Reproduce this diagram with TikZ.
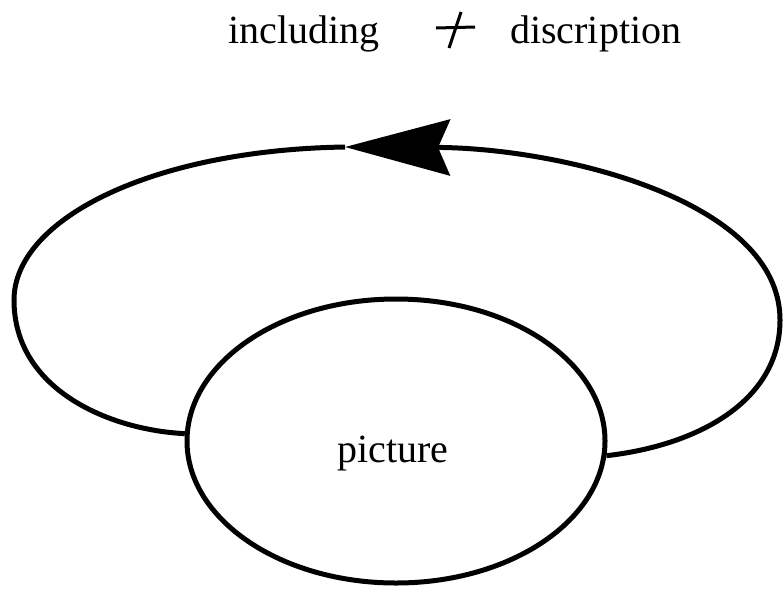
\documentclass[tikz,border=0pt]{standalone}
\usepackage{fontspec}
\setmainfont{Liberation Serif}
\usetikzlibrary{arrows.meta, shapes.geometric}

\begin{document}
\begin{tikzpicture}[x=1pt, y=-1pt,
  oval/.style={draw, ellipse, line width=5pt, minimum width=418pt,
               minimum height=284pt, inner sep=0pt},
  lbl/.style={font=\fontsize{40}{48}\selectfont, inner sep=0pt},
  arr/.style={line width=5pt},
  pen/.style={line width=3pt},
  tip/.style={-{Stealth[length=105pt, width=56pt, inset=12pt]}}
]
\useasboundingbox (0,0) rectangle (783,592);
\node[lbl, anchor=base west] (inc) at (228,43) {including};
\node[lbl, anchor=base west] (dis) at (510,43) {discription};
\draw[pen] (436,28) -- (475,27);
\draw[pen] (461,12) -- (449,48);
\node[oval] (pic) at (396,441) {};
\node[lbl, anchor=base] (pictxt) at (393,462) {picture};
\coordinate (head) at (345,147);
\draw[arr, tip] (pic.-4) .. controls (700,445) and (780,400) .. (780,320)
  .. controls (780,200) and (560,148) .. (head);
\draw[arr] (head) .. controls (150,150) and (14,220) .. (14,300)
  .. controls (14,390) and (110,430) .. (pic.178);
\end{tikzpicture}
\end{document}
